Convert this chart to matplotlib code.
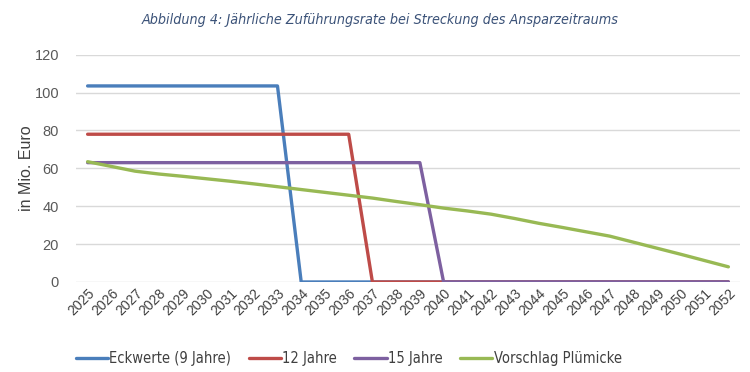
import matplotlib
matplotlib.use("Agg")
import matplotlib.pyplot as plt
from matplotlib.font_manager import FontProperties

years = list(range(2025, 2053))
eckwerte = [103.5] * 9 + [0] * 19
jahre12 = [78] * 12 + [0] * 16
jahre15 = [63] * 15 + [0] * 13
pluemicke = [63.5, 61.0, 58.5, 57.0, 55.8, 54.5, 53.2, 51.8, 50.3, 48.8,
             47.3, 45.8, 44.3, 42.5, 40.8, 39.0, 37.5, 35.8, 33.5, 31.0,
             28.8, 26.5, 24.2, 21.0, 17.8, 14.6, 11.3, 8.0]
labels = ["Eckwerte (9 Jahre)", "12 Jahre", "15 Jahre", "Vorschlag Plümicke"]
colors = ["#4a7ebb", "#be4b48", "#7d60a0", "#98b954"]

plt.rcParams['font.family'] = ['Liberation Sans', 'DejaVu Sans']

fig = plt.figure(figsize=(7.5, 3.72), dpi=100)
ax = fig.add_axes([0.101, 0.242, 0.886, 0.611])

x = list(range(len(years)))
for series, lab, c in zip([eckwerte, jahre12, jahre15, pluemicke], labels, colors):
    ax.plot(x, series, color=c, lw=2.4, label=lab, solid_capstyle='round')

ax.set_xlim(-0.5, len(years) - 0.5)
ax.set_ylim(0, 120)
ax.set_yticks(range(0, 121, 20))
ax.set_xticks(x)
ax.set_xticklabels([str(y) for y in years], rotation=45, ha='right',
                   rotation_mode='anchor', fontsize=10, color='#404040')
ax.tick_params(axis='y', labelsize=10.5, labelcolor='#595959', length=0, pad=12)
ax.tick_params(axis='x', length=0, pad=3)
ax.grid(axis='y', color='#d9d9d9', lw=1)
ax.set_axisbelow(True)
for s in ax.spines.values():
    s.set_visible(False)
ax.set_ylabel("in Mio. Euro", fontsize=11.5, color='#404040', labelpad=0)

cond = FontProperties(family='DejaVu Sans', stretch='condensed', style='italic', size=10.3)
fig.text(0.507, 0.946, "Abbildung 4: Jährliche Zuführungsrate bei Streckung des Ansparzeitraums",
         ha='center', va='center', color='#3b5278', fontproperties=cond)

leg_font = FontProperties(family='DejaVu Sans', stretch='condensed', size=10.5)
fig.legend(loc='center', bbox_to_anchor=(0.465, 0.035), ncol=4, frameon=False,
           handlelength=2.2, handletextpad=0.1, columnspacing=1.2,
           prop=leg_font, labelcolor='#404040')

fig.savefig("out.png", dpi=100)
